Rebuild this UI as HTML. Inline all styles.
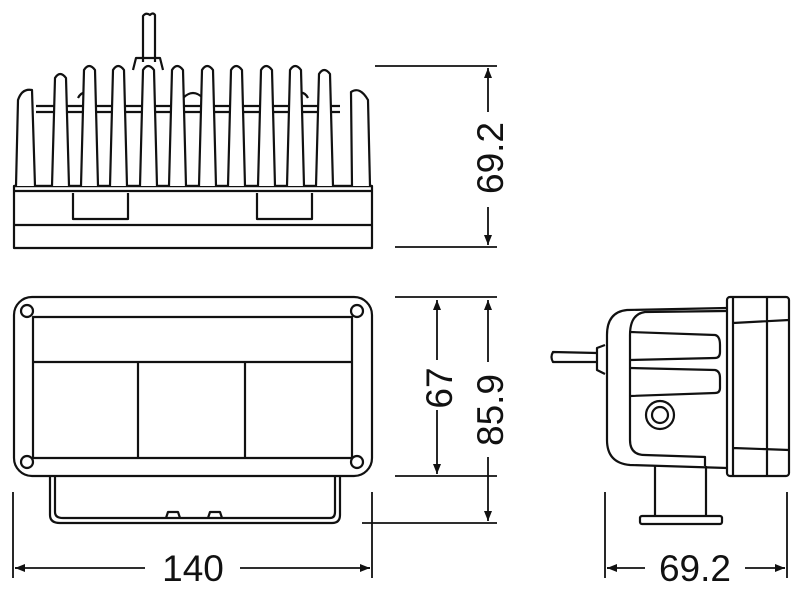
<!DOCTYPE html>
<html><head><meta charset="utf-8"><style>
html,body{margin:0;padding:0;background:#fff;width:800px;height:593px;overflow:hidden}
svg{display:block}
text{font-family:"Liberation Sans",sans-serif;font-size:37px;fill:#111}
</style></head><body>
<svg width="800" height="593" viewBox="0 0 800 593" xmlns="http://www.w3.org/2000/svg">
<defs>
<marker id="a" viewBox="0 0 10 10" refX="10" refY="5" markerWidth="12" markerHeight="10" markerUnits="userSpaceOnUse" orient="auto-start-reverse"><path d="M0,1 L10,5 L0,9 z" fill="#111"/></marker>
</defs>
<g fill="none" stroke="#111" stroke-width="2.2" stroke-linejoin="round">
<!-- top view -->
<path d="M143,62 L143,16 Q146,12 150,15 Q153,12 155,15 L155,62"/>
<path d="M133,70 L136,58 L160,58 L163,70"/>
<path d="M36,106 L340,106 M36,112 L340,112"/>
<path d="M78,98 Q82,90 90,94 M296,94 Q304,90 308,98 M183,98 Q193,88 203,98"/>
<path d="M14,186 L372,186 M14,191 L372,191"/>
<rect x="14" y="186" width="358" height="62"/>
<path d="M14,225 L372,225"/>
<path d="M73,193 L73,219 L128,219 L128,193 M257,193 L257,219 L312,219 L312,193"/>
<g fill="#fff">
<path d="M16,186 L18,100 Q22,88 32,90 L35,186"/>
<path d="M352,186 L351,92 Q360,86 368,100 L370,186"/>
<path d="M52,186 L55,78 Q60,70 66,78 L69,186"/>
<path d="M81,186 L84,70 Q89,62 95,70 L98,186"/>
<path d="M110,186 L113,70 Q118,62 124,70 L127,186"/>
<path d="M140,186 L143,70 Q148,62 154,70 L157,186"/>
<path d="M169,186 L172,70 Q177,62 183,70 L186,186"/>
<path d="M199,186 L202,70 Q207,62 213,70 L216,186"/>
<path d="M228,186 L231,70 Q236,62 242,70 L245,186"/>
<path d="M258,186 L261,70 Q266,62 272,70 L275,186"/>
<path d="M287,186 L290,70 Q295,62 301,70 L304,186"/>
<path d="M316,186 L319,74 Q324,66 330,74 L333,186"/>
</g>
<!-- front view -->
<rect x="14" y="297" width="358" height="179" rx="18"/>
<rect x="33" y="317" width="319" height="141"/>
<path d="M33,362 L352,362 M138,362 L138,458 M245,362 L245,458"/>
<circle cx="27" cy="311" r="6"/><circle cx="357" cy="311" r="6"/>
<circle cx="27" cy="462" r="6"/><circle cx="357" cy="462" r="6"/>
<path d="M50,477 L50,515 Q50,523 60,523 L332,523 Q340,523 340,515 L340,477"/>
<path d="M55,477 L55,512 Q55,518 63,518 L330,518 Q335,518 335,512 L335,477"/>
<path d="M166,518 L168,512 L178,512 L180,518 M208,518 L210,512 L220,512 L222,518"/>
<!-- side view -->
<path d="M727,308 L627,310 Q607,312 607,335 L607,440 Q607,463 630,465 L727,468"/>
<path d="M727,311 L645,312 Q630,314 630,335 L630,440 Q630,455 645,455 L705,457 L705,466"/>
<path d="M630,332 L715,335 Q720,336 720,345 L720,352 Q720,358 715,358 L630,360"/>
<path d="M630,368 L715,370 Q720,371 720,378 L720,388 Q720,393 715,393 L630,396"/>
<circle cx="660" cy="415" r="14"/><circle cx="660" cy="415" r="8"/>
<path d="M605,345 L597,348 L597,370 L605,374"/>
<path d="M597,353 L553,352 Q550,357 553,362 L597,362"/>
<rect x="727" y="297" width="62" height="179" rx="3"/>
<path d="M733,297 L733,476 M767,297 L767,476 M733,323 L789,320 M733,448 L789,450"/>
<path d="M655,466 L655,516 M706,466 L706,516"/>
<rect x="640" y="516" width="82" height="8" rx="2"/>
</g>
<g stroke="#111" stroke-width="1.8" fill="none">
<path d="M375,66 L497,66 M395,247 L497,247"/>
<path d="M488,68 L488,245" marker-start="url(#a)" marker-end="url(#a)"/>
<path d="M395,297 L497,297 M395,476 L497,476 M362,523 L497,523"/>
<path d="M437,300 L437,474" marker-start="url(#a)" marker-end="url(#a)"/>
<path d="M488,300 L488,521" marker-start="url(#a)" marker-end="url(#a)"/>
<path d="M13,492 L13,578 M372,492 L372,578 M605,492 L605,578 M787,492 L787,578"/>
<path d="M15,568 L145,568 M240,568 L370,568" />
<path d="M15,568 L20,568" marker-start="url(#a)"/>
<path d="M365,568 L370,568" marker-end="url(#a)"/>
<path d="M607,568 L645,568 M745,568 L785,568"/>
<path d="M607,568 L612,568" marker-start="url(#a)"/>
<path d="M780,568 L785,568" marker-end="url(#a)"/>
</g>
<rect x="474" y="112" width="30" height="95" fill="#fff"/>
<text transform="translate(503,158) rotate(-90)" text-anchor="middle">69.2</text>
<rect x="423" y="360" width="30" height="50" fill="#fff"/>
<text transform="translate(452,388) rotate(-90)" text-anchor="middle">67</text>
<rect x="474" y="362" width="30" height="95" fill="#fff"/>
<text transform="translate(503,410) rotate(-90)" text-anchor="middle">85.9</text>
<text x="193" y="581" text-anchor="middle">140</text>
<text x="695" y="581" text-anchor="middle">69.2</text>
</svg>
</body></html>
